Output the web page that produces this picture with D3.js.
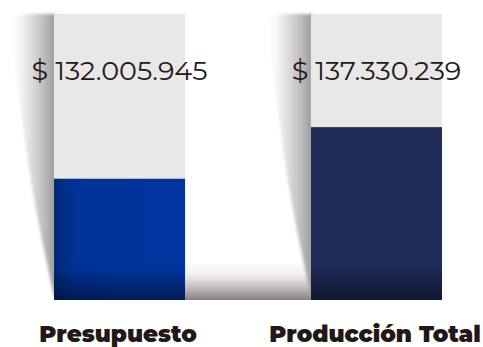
<!DOCTYPE html>
<html>
<head>
<meta charset="utf-8">
<script src="https://cdn.jsdelivr.net/npm/d3@7"></script>
<style>
  html, body { margin: 0; padding: 0; background: #fff; }
  svg { display: block; }
</style>
</head>
<body>
<svg id="chart" width="483" height="347"></svg>
<script>
// Budget vs. total production (pesos)
const categories = ["Presupuesto", "Producción Total"];
const values = [132005945, 137330239];

// scale limits used for the track behind each bar
const scaleMin = 119500000;
const scaleMax = 149000000;

const barColors = ["#0035a0", "#1f2b57"];
const textColor = "#231815";

const svg = d3.select("#chart");
const defs = svg.append("defs");

const x = d3.scaleBand().domain(categories).range([54, 442]).paddingInner(0.49).paddingOuter(0);
const y = d3.scaleLinear().domain([scaleMin, scaleMax]).range([300, 14]);

const locale = d3.formatLocale({ decimal: ",", thousands: ".", grouping: [3], currency: ["$ ", ""] });
const fmt = locale.format("$,d");

// ---- gradients ----
// horizontal fade for the curled shadow on the left of each bar
categories.forEach((c, i) => {
  const bx = x(c);
  const g = defs.append("linearGradient")
    .attr("id", "shadowH" + i)
    .attr("gradientUnits", "userSpaceOnUse")
    .attr("x1", bx - 46).attr("x2", bx).attr("y1", 0).attr("y2", 0);
  g.append("stop").attr("offset", 0).attr("stop-color", "#ffffff").attr("stop-opacity", 0);
  g.append("stop").attr("offset", 0.45).attr("stop-color", "#d8d8d8").attr("stop-opacity", 0.75);
  g.append("stop").attr("offset", 1).attr("stop-color", "#9e9e9e").attr("stop-opacity", 1);
});

// floor shadow between the bars
const floorG = defs.append("linearGradient").attr("id", "floorShadow")
  .attr("x1", 0).attr("x2", 0).attr("y1", 0).attr("y2", 1);
floorG.append("stop").attr("offset", 0).attr("stop-color", "#ffffff");
floorG.append("stop").attr("offset", 0.35).attr("stop-color", "#efeeee");
floorG.append("stop").attr("offset", 0.7).attr("stop-color", "#bdb9b8");
floorG.append("stop").attr("offset", 1).attr("stop-color", "#858080");

// darkening at the foot of each bar
const footG = defs.append("linearGradient").attr("id", "barFoot")
  .attr("x1", 0).attr("x2", 0).attr("y1", 0).attr("y2", 1);
footG.append("stop").attr("offset", 0).attr("stop-color", "#000").attr("stop-opacity", 0);
footG.append("stop").attr("offset", 1).attr("stop-color", "#000").attr("stop-opacity", 0.45);

// darker left edge on the first bar
const edgeG = defs.append("linearGradient").attr("id", "barEdge")
  .attr("x1", 0).attr("x2", 1).attr("y1", 0).attr("y2", 0);
edgeG.append("stop").attr("offset", 0).attr("stop-color", "#000").attr("stop-opacity", 0.25);
edgeG.append("stop").attr("offset", 0.18).attr("stop-color", "#000").attr("stop-opacity", 0.04);
edgeG.append("stop").attr("offset", 1).attr("stop-color", "#000").attr("stop-opacity", 0);

const blur = defs.append("filter").attr("id", "soft")
  .attr("x", "-20%").attr("y", "-5%").attr("width", "140%").attr("height", "110%");
blur.append("feGaussianBlur").attr("stdDeviation", 1.6);

// ---- floor shadow ----
const floorTop = 262;
svg.append("rect")
  .attr("x", x(categories[0]) + x.bandwidth())
  .attr("y", floorTop)
  .attr("width", x(categories[1]) - x(categories[0]) - x.bandwidth())
  .attr("height", y(scaleMin) - floorTop)
  .attr("fill", "url(#floorShadow)");

// ---- curled shadows ----
const curl = [[-45, 14], [-41, 50], [-35, 100], [-28, 150], [-20, 200], [-10, 250], [-3, 282], [0, 296]];
const curlLine = d3.line().curve(d3.curveBasis);
categories.forEach((c, i) => {
  const bx = x(c);
  const pts = curl.map(([dx, py]) => [bx + dx, py]);
  const d = curlLine(pts) + `L${bx + 2},296L${bx + 2},14Z`;
  svg.append("path")
    .attr("d", d)
    .attr("fill", `url(#shadowH${i})`)
    .attr("filter", "url(#soft)");
});

// ---- bars ----
const bars = svg.append("g");
bars.selectAll("rect.track")
  .data(categories)
  .join("rect")
  .attr("class", "track")
  .attr("x", d => x(d))
  .attr("y", y(scaleMax))
  .attr("width", x.bandwidth())
  .attr("height", y(scaleMin) - y(scaleMax))
  .attr("fill", "#e8e8e8");

bars.selectAll("rect.value")
  .data(values)
  .join("rect")
  .attr("class", "value")
  .attr("x", (d, i) => x(categories[i]))
  .attr("y", d => y(d))
  .attr("width", x.bandwidth())
  .attr("height", d => y(scaleMin) - y(d))
  .attr("fill", (d, i) => barColors[i]);

bars.append("rect")
  .attr("x", x(categories[0]))
  .attr("y", y(values[0]))
  .attr("width", x.bandwidth())
  .attr("height", y(scaleMin) - y(values[0]))
  .attr("fill", "url(#barEdge)");

const footH = 34;
bars.selectAll("rect.foot")
  .data(values)
  .join("rect")
  .attr("class", "foot")
  .attr("x", (d, i) => x(categories[i]))
  .attr("y", y(scaleMin) - footH)
  .attr("width", x.bandwidth())
  .attr("height", footH)
  .attr("fill", "url(#barFoot)");

// ---- value labels ----
svg.selectAll("text.val")
  .data(values)
  .join("text")
  .attr("class", "val")
  .attr("x", (d, i) => x(categories[i]) + x.bandwidth() / 2)
  .attr("y", 79.5)
  .attr("text-anchor", "middle")
  .attr("font-family", "Montserrat, Inter, 'Open Sans', sans-serif")
  .attr("font-size", 27)
  .attr("fill", textColor)
  .text(d => fmt(d));

// ---- category labels ----
svg.selectAll("text.cat")
  .data(categories)
  .join("text")
  .attr("class", "cat")
  .attr("x", d => x(d) + x.bandwidth() / 2 - 1.5)
  .attr("y", 341.5)
  .attr("text-anchor", "middle")
  .attr("font-family", "Montserrat, Inter, 'Open Sans', sans-serif")
  .attr("font-weight", 900)
  .attr("font-size", 23)
  .attr("fill", textColor)
  .text(d => d);
</script>
</body>
</html>
